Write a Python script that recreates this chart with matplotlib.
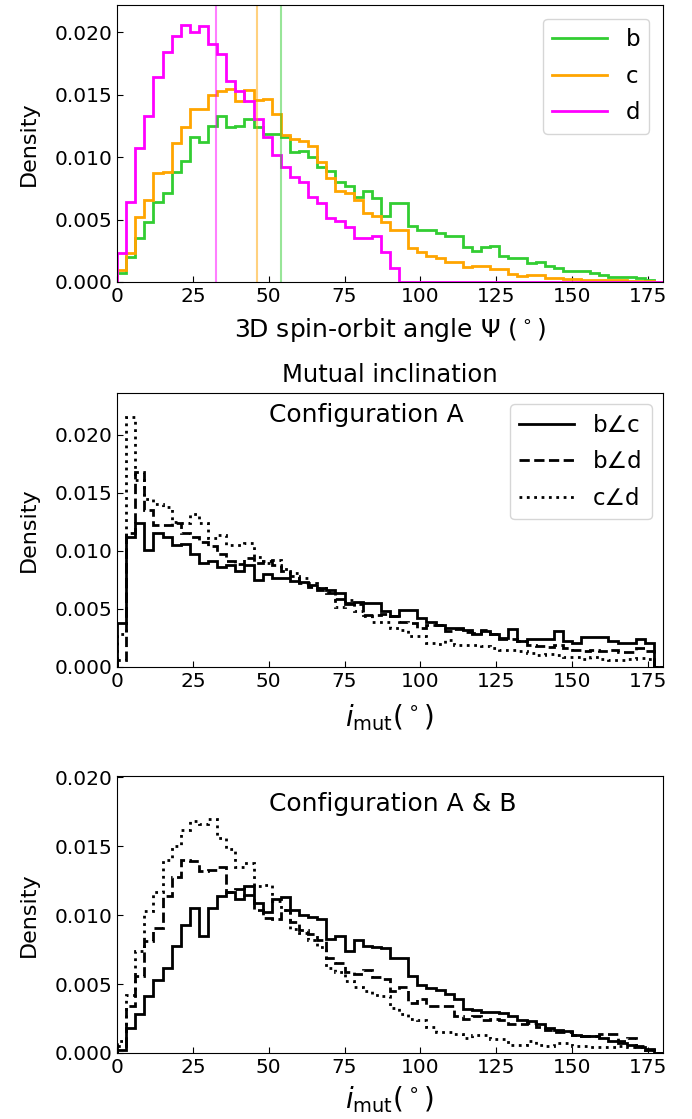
import numpy as np
import matplotlib
matplotlib.use("Agg")
import matplotlib.pyplot as plt
from matplotlib.lines import Line2D

# ---------------- data ----------------
bin_edges = np.arange(0, 181, 3)  # degrees
bin_centers = 0.5 * (bin_edges[:-1] + bin_edges[1:])

# Panel 1: 3D spin-orbit angle densities
psi_b = [0.00072, 0.0020, 0.0035, 0.0048, 0.0064, 0.0071, 0.0088, 0.0097, 0.0116, 0.0112,
         0.0125, 0.0133, 0.0124, 0.0125, 0.0131, 0.0124, 0.0119, 0.0119, 0.0116, 0.0104,
         0.0105, 0.0100, 0.0092, 0.0089, 0.0080, 0.0077, 0.0068, 0.0073, 0.0067, 0.0053,
         0.0063, 0.0063, 0.00445, 0.0042, 0.0042, 0.0039, 0.00365, 0.00365, 0.0028, 0.0025,
         0.0028, 0.0029, 0.0021, 0.0019, 0.0019, 0.00155, 0.0016, 0.0013, 0.0011, 0.0009,
         0.0009, 0.0009, 0.00075, 0.0006, 0.0004, 0.0004, 0.0004, 0.0003, 0.0002, 0.0]
psi_c = [0.00093, 0.0023, 0.0052, 0.0066, 0.0087, 0.0088, 0.0111, 0.0124, 0.0139, 0.0139,
         0.0150, 0.0153, 0.0155, 0.0145, 0.0154, 0.0146, 0.0147, 0.0135, 0.0118, 0.0115,
         0.0113, 0.0109, 0.0096, 0.0083, 0.0073, 0.0071, 0.0066, 0.0055, 0.0053, 0.0048,
         0.0042, 0.0042, 0.00275, 0.0024, 0.00205, 0.0019, 0.0016, 0.0016, 0.0012, 0.0013,
         0.00125, 0.00105, 0.00105, 0.00067, 0.00048, 0.00053, 0.00053, 0.00035, 0.00035, 0.00027,
         0.00027, 0.0002, 0.0002, 0.0002, 0.0002, 0.00013, 0.0001, 0.0001, 0.00005, 0.0]
psi_d = [0.0023, 0.0064, 0.0107, 0.0133, 0.0164, 0.0184, 0.0197, 0.0206, 0.0200, 0.0205,
         0.0191, 0.0183, 0.0161, 0.0153, 0.0145, 0.0131, 0.0116, 0.0102, 0.0092, 0.0084,
         0.0080, 0.0068, 0.0063, 0.0051, 0.0049, 0.0044, 0.0035, 0.0035, 0.0037, 0.0024,
         0.0011, 0.0, 0.0, 0.0, 0.0, 0.0, 0.0, 0.0, 0.0, 0.0,
         0.0, 0.0, 0.0, 0.0, 0.0, 0.0, 0.0, 0.0, 0.0, 0.0,
         0.0, 0.0, 0.0, 0.0, 0.0, 0.0, 0.0, 0.0, 0.0, 0.0]
psi_medians = [54.2, 46.3, 32.8]  # b, c, d
planet_labels = ["b", "c", "d"]
planet_colors = ["limegreen", "orange", "magenta"]

# Panel 2: mutual inclination, configuration A
mutA_bc = [0.0038, 0.0112, 0.0124, 0.0101, 0.0115, 0.0112, 0.0105, 0.0106, 0.0097, 0.0090,
           0.0091, 0.0086, 0.0088, 0.0083, 0.0088, 0.0075, 0.0080, 0.0077, 0.0077, 0.0074,
           0.00735, 0.0071, 0.0068, 0.0066, 0.0064, 0.0054, 0.0056, 0.0055, 0.0055, 0.0048,
           0.0044, 0.0049, 0.0049, 0.0042, 0.0039, 0.0036, 0.0034, 0.0034, 0.0032, 0.0028,
           0.0031, 0.0028, 0.0025, 0.0033, 0.0022, 0.0024, 0.0024, 0.0024, 0.0031, 0.0022,
           0.0021, 0.0026, 0.0026, 0.0026, 0.0022, 0.0021, 0.0021, 0.0024, 0.0021, 0.0]
mutA_bd = [0.0006, 0.0115, 0.0168, 0.0135, 0.0122, 0.0122, 0.0124, 0.0115, 0.0112, 0.0108,
           0.0104, 0.0097, 0.0091, 0.0089, 0.0094, 0.0090, 0.0091, 0.0088, 0.0083, 0.0078,
           0.0072, 0.0069, 0.0066, 0.0064, 0.0059, 0.0055, 0.0054, 0.0045, 0.0045, 0.0046,
           0.0044, 0.0039, 0.0038, 0.0034, 0.0036, 0.0036, 0.0031, 0.0033, 0.0030, 0.0029,
           0.0032, 0.0028, 0.0024, 0.0024, 0.0022, 0.0019, 0.0018, 0.0017, 0.0019, 0.0016,
           0.0015, 0.0014, 0.0015, 0.0014, 0.0015, 0.0013, 0.0013, 0.0016, 0.0014, 0.0]
mutA_cd = [0.0028, 0.0215, 0.0161, 0.0145, 0.0140, 0.0138, 0.0125, 0.0124, 0.0132, 0.0124,
           0.0111, 0.0114, 0.0105, 0.0105, 0.0107, 0.0095, 0.0090, 0.0092, 0.0084, 0.0081,
           0.0077, 0.0072, 0.0068, 0.0065, 0.0052, 0.0058, 0.0048, 0.0044, 0.0039, 0.0039,
           0.0034, 0.0032, 0.0027, 0.0027, 0.0021, 0.0020, 0.0023, 0.0019, 0.0019, 0.0019,
           0.0018, 0.0016, 0.0015, 0.0015, 0.0014, 0.0012, 0.0010, 0.0011, 0.0010, 0.0009,
           0.0009, 0.0007, 0.0009, 0.0007, 0.0006, 0.0006, 0.0007, 0.0008, 0.0007, 0.0]

# Panel 3: mutual inclination, configuration A & B
mutAB_bc = [0.00024, 0.0018, 0.0028, 0.0041, 0.0053, 0.0062, 0.0078, 0.0093, 0.0105, 0.0085,
            0.0105, 0.0114, 0.0117, 0.0112, 0.0121, 0.0109, 0.0102, 0.0112, 0.0113, 0.0104,
            0.0100, 0.0099, 0.0097, 0.0083, 0.0085, 0.0074, 0.0082, 0.0078, 0.0077, 0.0076,
            0.0069, 0.0069, 0.0056, 0.0049, 0.0047, 0.0046, 0.0043, 0.0039, 0.0032, 0.0031,
            0.0030, 0.0030, 0.0029, 0.0027, 0.0024, 0.0023, 0.0021, 0.0018, 0.0017, 0.0016,
            0.0013, 0.0012, 0.0012, 0.0011, 0.0009, 0.0007, 0.0006, 0.0004, 0.0002, 0.0]
mutAB_bd = [0.0005, 0.0034, 0.0056, 0.0081, 0.0091, 0.0114, 0.0128, 0.0140, 0.0139, 0.0132,
            0.0133, 0.0135, 0.0117, 0.0119, 0.0115, 0.0104, 0.0098, 0.0097, 0.0104, 0.0095,
            0.0089, 0.0086, 0.0082, 0.0069, 0.0065, 0.0059, 0.0057, 0.0060, 0.0055, 0.0054,
            0.0045, 0.0048, 0.0036, 0.0039, 0.0034, 0.0034, 0.0034, 0.0027, 0.0025, 0.0027,
            0.0024, 0.0025, 0.0024, 0.0021, 0.0021, 0.0022, 0.0019, 0.0017, 0.0015, 0.0015,
            0.0013, 0.0012, 0.0012, 0.0014, 0.0014, 0.0009, 0.0011, 0.0005, 0.0003, 0.0]
mutAB_cd = [0.0009, 0.0042, 0.0074, 0.0103, 0.0117, 0.0140, 0.0150, 0.0162, 0.0168, 0.0166,
            0.0170, 0.0156, 0.0148, 0.0135, 0.0138, 0.0121, 0.0122, 0.0110, 0.0104, 0.0090,
            0.0087, 0.0082, 0.0077, 0.0062, 0.0059, 0.0052, 0.0048, 0.0045, 0.0042, 0.0041,
            0.0033, 0.0028, 0.0025, 0.0024, 0.0019, 0.0015, 0.0015, 0.0014, 0.0011, 0.0013,
            0.0013, 0.0010, 0.0010, 0.0006, 0.0006, 0.0009, 0.0006, 0.0005, 0.0007, 0.0007,
            0.0005, 0.0005, 0.0004, 0.0004, 0.0004, 0.0005, 0.0004, 0.0004, 0.0002, 0.0]

pair_labels = ["b\u2220c", "b\u2220d", "c\u2220d"]
pair_styles = ["-", "--", ":"]

# ---------------- figure ----------------
W, H = 692, 1119
fig = plt.figure(figsize=(W / 100, H / 100), dpi=100)

def px_axes(left, top, right, bottom):
    return fig.add_axes([left / W, 1 - bottom / H, (right - left) / W, (bottom - top) / H])

tick_fs = 14.5
ylabel_fs = 16
xlabel_fs = 18
imut_fs = 20
text_fs = 18
legend_fs = 16.5

def style(ax, ymax):
    ax.set_xlim(0, 180)
    ax.set_ylim(0, ymax)
    ax.set_xticks([0, 25, 50, 75, 100, 125, 150, 175])
    ax.set_yticks([0, 0.005, 0.010, 0.015, 0.020])
    ax.yaxis.set_major_formatter(matplotlib.ticker.FormatStrFormatter("%.3f"))
    ax.tick_params(direction="in", labelsize=tick_fs, length=4)
    ax.set_ylabel("Density", fontsize=ylabel_fs, labelpad=11)

# Panel 1
ax1 = px_axes(117, 5, 663, 282)
for vals, col in zip([psi_b, psi_c, psi_d], planet_colors):
    ax1.hist(bin_centers, bins=bin_edges, weights=vals, histtype="step",
             color=col, lw=2)
for med, col in zip(psi_medians, planet_colors):
    ax1.axvline(med, color=col, lw=1.5, alpha=0.5)
style(ax1, 0.0222)
ax1.set_xlabel(r"3D spin-orbit angle $\Psi$ ($^\circ$)", fontsize=xlabel_fs, labelpad=7)
h1 = [Line2D([], [], color=c, lw=2) for c in planet_colors]
ax1.legend(h1, planet_labels, loc="upper right", fontsize=legend_fs,
           handlelength=2.4, labelspacing=0.6, borderaxespad=0.6)

# Panel 2
ax2 = px_axes(117, 393, 663, 667)
for vals, ls in zip([mutA_bc, mutA_bd, mutA_cd], pair_styles):
    ax2.hist(bin_centers, bins=bin_edges, weights=vals, histtype="step",
             color="black", lw=2, ls=ls)
style(ax2, 0.0236)
ax2.set_xlabel(r"$i_{\rm mut}$($^\circ$)", fontsize=imut_fs, labelpad=8)
ax2.set_title("Mutual inclination", fontsize=17.5, pad=8)
ax2.text(50, 0.92, "Configuration A", transform=ax2.get_xaxis_transform(),
         ha="left", va="center", fontsize=text_fs)
h2 = [Line2D([], [], color="black", lw=2, ls=ls) for ls in pair_styles]
ax2.legend(h2, pair_labels, loc="upper right", fontsize=legend_fs,
           handlelength=2.4, labelspacing=0.6)

# Panel 3
ax3 = px_axes(117, 776, 663, 1053)
for vals, ls in zip([mutAB_bc, mutAB_bd, mutAB_cd], pair_styles):
    ax3.hist(bin_centers, bins=bin_edges, weights=vals, histtype="step",
             color="black", lw=2, ls=ls)
style(ax3, 0.0201)
ax3.set_xlabel(r"$i_{\rm mut}$($^\circ$)", fontsize=imut_fs, labelpad=5)
ax3.text(50, 0.898, "Configuration A & B", transform=ax3.get_xaxis_transform(),
         ha="left", va="center", fontsize=text_fs)

fig.savefig("out.png", dpi=100)
